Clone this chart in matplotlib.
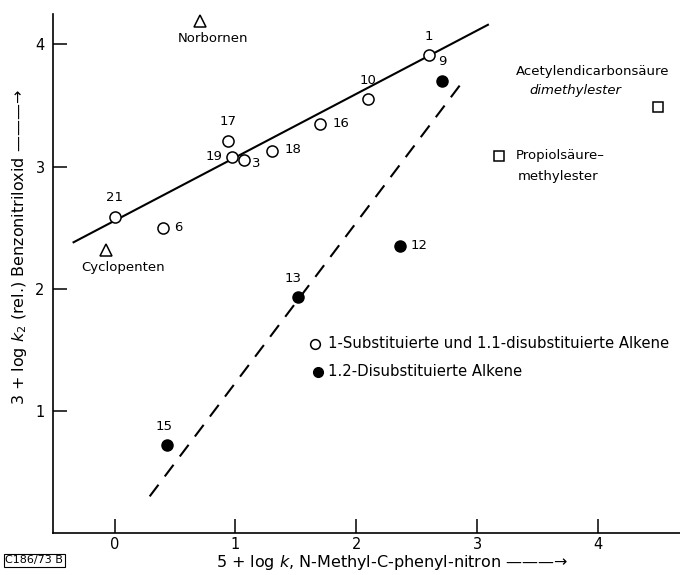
import matplotlib.pyplot as plt

# open circles: 1-substituted and 1,1-disubstituted alkenes
open_ids = ["21", "6", "17", "19", "3", "18", "16", "10", "1"]
open_x = [0.00, 0.40, 0.94, 0.97, 1.07, 1.30, 1.70, 2.10, 2.60]
open_y = [2.59, 2.50, 3.21, 3.08, 3.05, 3.13, 3.35, 3.55, 3.91]

# filled circles: 1,2-disubstituted alkenes
fill_ids = ["9", "12", "13", "15"]
fill_x = [2.71, 2.36, 1.52, 0.43]
fill_y = [3.70, 2.35, 1.93, 0.72]

# triangles and squares
tri_names = ["Norbornen", "Cyclopenten"]
tri_x = [0.71, -0.07]
tri_y = [4.19, 2.32]
sq_x = [4.50, 3.18]
sq_y = [3.49, 3.09]

# regression lines (end points)
solid_x = [-0.34, 3.09]
solid_y = [2.38, 4.16]
dash_x = [0.29, 2.90]
dash_y = [0.30, 3.72]

plt.rcParams['font.family'] = 'DejaVu Sans'
fig = plt.figure(figsize=(6.8, 5.75), dpi=100)
ax = fig.add_axes([0.078, 0.073, 0.922, 0.903])
ax.set_xlim(-0.51, 4.68)
ax.set_ylim(0.0, 4.25)

ax.plot(solid_x, solid_y, color='black', lw=1.5, zorder=1)
ax.plot(dash_x, dash_y, color='black', lw=1.5, dashes=(7, 5), zorder=1)

ax.plot(open_x, open_y, 'o', ms=8, mfc='white', mec='black', mew=1.1, zorder=3)
ax.plot(fill_x, fill_y, 'o', ms=8, mfc='black', mec='black', zorder=3)
ax.plot(tri_x, tri_y, '^', ms=8, mfc='white', mec='black', mew=1.1, zorder=3)
ax.plot(sq_x, sq_y, 's', ms=7, mfc='white', mec='black', mew=1.1, zorder=3)

fs = 9.5
# label offsets in points for each numbered point
open_off = {"21": (0, 9, 'center', 'bottom'), "6": (8, 0, 'left', 'center'),
            "17": (0, 9, 'center', 'bottom'), "19": (-7, 0, 'right', 'center'),
            "3": (6, -2, 'left', 'center'), "18": (9, 1, 'left', 'center'),
            "16": (9, 0, 'left', 'center'), "10": (0, 9, 'center', 'bottom'),
            "1": (0, 9, 'center', 'bottom')}
for i, x, y in zip(open_ids, open_x, open_y):
    dx, dy, ha, va = open_off[i]
    ax.annotate(i, (x, y), xytext=(dx, dy), textcoords='offset points',
                ha=ha, va=va, fontsize=fs)
fill_off = {"9": (0, 9, 'center', 'bottom'), "12": (8, 0, 'left', 'center'),
            "13": (-4, 9, 'center', 'bottom'), "15": (-2, 9, 'center', 'bottom')}
for i, x, y in zip(fill_ids, fill_x, fill_y):
    dx, dy, ha, va = fill_off[i]
    ax.annotate(i, (x, y), xytext=(dx, dy), textcoords='offset points',
                ha=ha, va=va, fontsize=fs)

ax.annotate(tri_names[0], (tri_x[0], tri_y[0]), xytext=(9, -8), textcoords='offset points',
            ha='center', va='top', fontsize=fs)
ax.annotate(tri_names[1], (tri_x[1], tri_y[1]), xytext=(12, -8), textcoords='offset points',
            ha='center', va='top', fontsize=fs)
ax.text(3.32, 3.78, "Acetylendicarbonsäure", fontsize=fs, ha='left', va='center')
ax.text(3.43, 3.62, "dimethylester", fontsize=fs, ha='left', va='center', style='italic')
ax.text(3.32, 3.09, "Propiolsäure–", fontsize=fs, ha='left', va='center')
ax.text(3.34, 2.92, "methylester", fontsize=fs, ha='left', va='center')

# legend drawn by hand
lfs = 10.7
ax.plot([1.66], [1.55], 'o', ms=7, mfc='white', mec='black', mew=1.1)
ax.plot([1.68], [1.32], 'o', ms=7, mfc='black', mec='black')
ax.text(1.77, 1.55, "1-Substituierte und 1.1-disubstituierte Alkene", fontsize=lfs,
        ha='left', va='center')
ax.text(1.77, 1.32, "1.2-Disubstituierte Alkene", fontsize=lfs, ha='left', va='center')

for s in ['top', 'right']:
    ax.spines[s].set_visible(False)
ax.spines['left'].set_linewidth(1.2)
ax.spines['bottom'].set_linewidth(1.2)
ax.set_xticks([0, 1, 2, 3, 4])
ax.set_yticks([1, 2, 3, 4])
ax.tick_params(direction='in', length=10, width=1.1, labelsize=10.5, pad=3)
ax.tick_params(axis='y', pad=6)

ax.set_xlabel(r"5 + log $k$, N-Methyl-C-phenyl-nitron ———→", fontsize=11.5,
              ha='center', va='center')
ax.xaxis.set_label_coords(0.54, -0.056)
ax.set_ylabel(r"3 + log $k_2$ (rel.) Benzonitriloxid ———→", fontsize=11.5,
              ha='center', va='center')
ax.yaxis.set_label_coords(-0.053, 0.55)

fig.text(0.008, 0.02, "C186/73 B", fontsize=8,
         bbox=dict(boxstyle='square,pad=0.15', fc='white', ec='black', lw=0.8))

fig.savefig("out.png", dpi=100)
